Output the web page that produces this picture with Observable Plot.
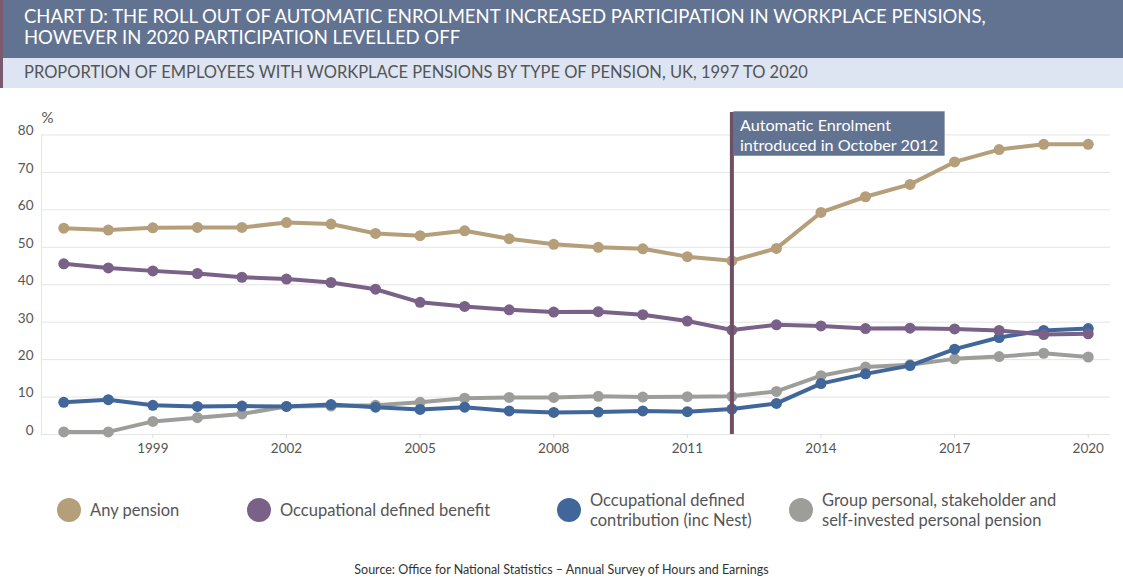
<!DOCTYPE html>
<html>
<head>
<meta charset="utf-8">
<script src="https://cdn.jsdelivr.net/npm/d3@7"></script>
<script src="https://cdn.jsdelivr.net/npm/@observablehq/plot@0.6"></script>
<style>
  body { margin: 0; background: #fff; width: 1123px; font-family: Lato, "Open Sans", sans-serif; }
  .title { background: #627391; color: #fff; height: 58px; box-sizing: border-box; border-left: 3px solid #7b5a70;
           padding: 6px 0 0 21px; font-size: 18.5px; line-height: 21px; white-space: nowrap; }
  .subtitle { background: #dde4f2; color: #555; height: 30px; box-sizing: border-box; border-left: 3px solid #7b5a70;
              padding: 5px 0 0 21px; font-size: 16.5px; line-height: 19px; white-space: nowrap; }
  #chart { height: 382px; }
  #chart svg { display: block; }
  .legend { position: relative; height: 90px; }
  .item { position: absolute; top: 19px; height: 42px; display: flex; align-items: center; color: #555; font-size: 16.5px; line-height: 20px; }
  .item .sw { width: 24px; height: 24px; border-radius: 50%; margin-right: 9px; flex: none; }
  .item:nth-child(1) { left: 57px; }
  .item:nth-child(2) { left: 247px; }
  .item:nth-child(3) { left: 557px; }
  .item:nth-child(4) { left: 789px; }
  .source { text-align: center; font-size: 12.5px; line-height: 15px; color: #333; padding-top: 2px; }
</style>
</head>
<body>
<div class="title">CHART D: THE ROLL OUT OF AUTOMATIC ENROLMENT INCREASED PARTICIPATION IN WORKPLACE PENSIONS,<br>HOWEVER IN 2020 PARTICIPATION LEVELLED OFF</div>
<div class="subtitle">PROPORTION OF EMPLOYEES WITH WORKPLACE PENSIONS BY TYPE OF PENSION, UK, 1997 TO 2020</div>
<div id="chart"></div>
<div class="legend" id="legend"></div>
<div class="source">Source: Office for National Statistics – Annual Survey of Hours and Earnings</div>
<script>
const years = [1997, 1998, 1999, 2000, 2001, 2002, 2003, 2004, 2005, 2006, 2007, 2008, 2009, 2010, 2011, 2012, 2013, 2014, 2015, 2016, 2017, 2018, 2019, 2020];
const anyPension = [55.1, 54.6, 55.2, 55.3, 55.3, 56.6, 56.2, 53.7, 53.1, 54.4, 52.3, 50.8, 50.0, 49.6, 47.5, 46.4, 49.7, 59.3, 63.5, 66.8, 72.8, 76.1, 77.5, 77.5];
const occDB = [45.6, 44.5, 43.7, 43.0, 42.0, 41.5, 40.6, 38.8, 35.3, 34.2, 33.3, 32.7, 32.8, 32.0, 30.3, 27.9, 29.3, 29.0, 28.3, 28.4, 28.2, 27.8, 26.7, 26.9];
const occDC = [8.6, 9.3, 7.8, 7.5, 7.6, 7.5, 8.0, 7.3, 6.7, 7.3, 6.3, 5.9, 6.0, 6.3, 6.1, 6.8, 8.3, 13.6, 16.2, 18.4, 22.8, 25.9, 27.8, 28.3];
const groupPersonal = [0.7, 0.7, 3.5, 4.5, 5.5, 7.5, 7.6, 7.8, 8.6, 9.7, 9.9, 9.9, 10.2, 10.0, 10.1, 10.2, 11.5, 15.7, 18.0, 18.6, 20.2, 20.8, 21.7, 20.7];

const seriesNames = ["Any pension", "Occupational defined benefit", "Occupational defined contribution (inc Nest)", "Group personal, stakeholder and self-invested personal pension"];
const legendLabels = ["Any pension", "Occupational defined benefit", "Occupational defined<br>contribution (inc Nest)", "Group personal, stakeholder and<br>self-invested personal pension"];
const seriesValues = [anyPension, occDB, occDC, groupPersonal];
const seriesColors = ["#b59e7a", "#7a6188", "#41669a", "#9d9e99"];
const drawOrder = [3, 2, 1, 0];

const xTicks = [1999, 2002, 2005, 2008, 2011, 2014, 2017, 2020];
const yTicks = [0, 10, 20, 30, 40, 50, 60, 70, 80];
const xDomain = [1996.5, 2020.5];
const annotations = [{year: 2012, label: "Automatic Enrolment\nintroduced in October 2012"}];

const table = [];
seriesNames.forEach((s, i) => years.forEach((y, j) => table.push({series: s, year: y, value: seriesValues[i][j]})));

const seriesMarks = [];
drawOrder.forEach(i => {
  const d = table.filter(r => r.series === seriesNames[i]);
  seriesMarks.push(Plot.line(d, {x: "year", y: "value", stroke: "series", strokeWidth: 4}));
  seriesMarks.push(Plot.dot(d, {x: "year", y: "value", fill: "series", r: 5.5}));
});

const plot = Plot.plot({
  width: 1123, height: 382,
  marginTop: 24, marginBottom: 36, marginLeft: 41, marginRight: 13,
  style: {fontFamily: "Lato, 'Open Sans', sans-serif", fontSize: "13.5px", color: "#555", background: "transparent", overflow: "visible"},
  x: {domain: xDomain},
  y: {domain: [0, 86]},
  color: {domain: seriesNames, range: seriesColors},
  marks: [
    Plot.ruleY(yTicks, {stroke: "#e4e4e4", strokeWidth: 1}),
    Plot.ruleX([xDomain[0]], {y1: yTicks[0], y2: yTicks[yTicks.length - 1], stroke: "#e4e4e4"}),
    Plot.axisY(yTicks, {tickSize: 0, tickPadding: 8, dy: -4, label: null, fill: "#555"}),
    Plot.axisX(xTicks, {tickSize: 4, tickPadding: 5, stroke: "#dcdcdc", tickFormat: d => String(d), label: null, fill: "#555"}),
    Plot.text(["%"], {x: xDomain[0], y: yTicks[yTicks.length - 1], text: d => d, textAnchor: "start", dy: -17, fontSize: 15, fill: "#555"}),
    ...seriesMarks,
    Plot.ruleX(annotations, {x: "year", stroke: "#6e4f66", strokeWidth: 4}),
    Plot.text(annotations, {x: "year", text: "label", frameAnchor: "top", textAnchor: "start", lineAnchor: "top", dx: 8, dy: 5, fill: "#fff", fontSize: 16.2, lineHeight: 1.2, className: "anno"})
  ]
});
document.getElementById("chart").appendChild(plot);

// background box for annotation
d3.select(plot).selectAll(".anno text").each(function() {
  const b = this.getBBox();
  const g = this.parentNode;
  const rect = document.createElementNS("http://www.w3.org/2000/svg", "rect");
  const tr = this.getAttribute("transform") || "";
  rect.setAttribute("x", b.x - 6.5);
  rect.setAttribute("y", b.y - 4);
  rect.setAttribute("width", b.width + 13);
  rect.setAttribute("height", b.height + 6);
  rect.setAttribute("fill", "#627391");
  if (tr) rect.setAttribute("transform", tr);
  g.insertBefore(rect, this);
});

const legend = d3.select("#legend");
seriesNames.forEach((s, i) => {
  const it = legend.append("div").attr("class", "item");
  it.append("div").attr("class", "sw").style("background", seriesColors[i]);
  it.append("div").html(legendLabels[i]);
});
</script>
</body>
</html>
